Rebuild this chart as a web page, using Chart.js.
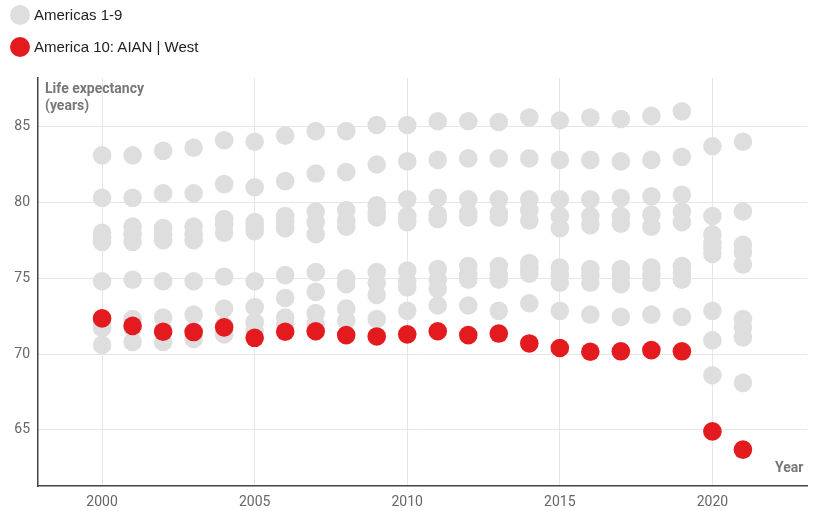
<!DOCTYPE html>
<html>
<head>
<meta charset="utf-8">
<script src="https://cdn.jsdelivr.net/npm/chart.js@4.4.1/dist/chart.umd.min.js"></script>
<style>
  html, body { margin: 0; padding: 0; background: #fff; }
  #wrap { position: relative; width: 819px; height: 511px; }
  #chart { position: absolute; left: 0; top: 0; }
  .leg { position: absolute; left: 10px; font: 15px "Liberation Sans", Arial, sans-serif; color: #222; white-space: nowrap; }
  .leg span { display: inline-block; width: 20px; height: 20px; border-radius: 50%; vertical-align: middle; margin-right: 4px; position: relative; top: -1px; }
  .ttl { position: absolute; font: bold 14px Roboto, sans-serif; color: #777; line-height: 17px; }
</style>
</head>
<body>
<div id="wrap">
  <canvas id="chart" width="819" height="511"></canvas>
  <div class="leg" style="top:6px"><span style="background:#dedede"></span>Americas 1-9</div>
  <div class="leg" style="top:38px"><span style="background:#e31b1f"></span>America 10: AIAN | West</div>
  <div class="ttl" style="left:45px;top:80px">Life expectancy<br>(years)</div>
  <div class="ttl" style="left:775px;top:459px">Year</div>
</div>
<script>
// years on the x axis
const years = [2000,2001,2002,2003,2004,2005,2006,2007,2008,2009,2010,2011,2012,2013,2014,2015,2016,2017,2018,2019,2020,2021];
const xTicks = [2000, 2005, 2010, 2015, 2020];
const yTicks = [65, 70, 75, 80, 85];

// Americas 1-9 (gray), one row per series
const america1 = [83.1,83.1,83.4,83.6,84.1,84.0,84.4,84.7,84.7,85.1,85.1,85.35,85.35,85.3,85.6,85.4,85.6,85.5,85.7,86.0,83.7,84.0];
const america2 = [80.3,80.3,80.6,80.6,81.2,81.0,81.4,81.9,82.0,82.5,82.7,82.8,82.9,82.9,82.9,82.8,82.8,82.7,82.8,83.0,79.1,79.4];
const america3 = [78.0,78.4,78.3,78.4,78.9,78.7,79.1,79.4,79.5,79.8,80.2,80.3,80.2,80.2,80.2,80.2,80.2,80.3,80.4,80.5,77.9,77.2];
const america4 = [77.7,77.9,77.9,77.9,78.5,78.4,78.7,78.7,78.8,79.3,79.1,79.2,79.3,79.3,79.5,79.1,79.1,79.1,79.2,79.4,77.3,76.7];
const america5 = [77.4,77.4,77.5,77.5,78.0,78.1,78.3,77.9,78.4,79.0,78.7,78.9,79.0,79.0,78.8,78.3,78.5,78.6,78.4,78.7,77.0,75.9];
const america6 = [74.8,74.9,74.8,74.8,75.1,74.8,75.2,75.4,75.0,75.4,75.5,75.6,75.8,75.8,76.0,75.7,75.6,75.6,75.7,75.8,76.6,72.3];
const america7 = [72.0,72.3,72.4,72.6,73.0,73.1,73.7,74.1,74.6,74.7,74.8,74.9,75.2,75.2,75.6,75.2,75.2,75.1,75.2,75.3,72.85,71.75];
const america8 = [71.7,71.7,71.6,71.5,71.9,72.1,72.4,72.7,73.0,73.9,74.4,74.3,74.9,74.9,75.3,74.7,74.7,74.6,74.7,74.9,70.9,71.1];
const america9 = [70.6,70.8,70.8,71.0,71.3,71.5,71.9,72.0,72.2,72.3,72.85,73.2,73.2,72.85,73.35,72.85,72.6,72.45,72.6,72.45,68.6,68.1];
// America 10: AIAN | West (red)
const america10 = [72.35,71.86,71.47,71.45,71.76,71.07,71.47,71.5,71.25,71.16,71.3,71.5,71.25,71.35,70.7,70.4,70.15,70.18,70.26,70.18,64.9,63.7];

const grays = [america1, america2, america3, america4, america5, america6, america7, america8, america9];

function toPoints(vals){
  return vals.map((v, i) => ({x: years[i], y: v}));
}

const datasets = [{
  label: 'America 10: AIAN | West',
  data: toPoints(america10),
  backgroundColor: '#e31b1f',
  pointRadius: 9.3,
  pointBorderWidth: 0,
  order: 0
}];
grays.forEach((g, i) => {
  datasets.push({
    label: 'America ' + (i + 1),
    data: toPoints(g),
    backgroundColor: '#dedede',
    pointRadius: 9.3,
    pointBorderWidth: 0,
    order: 1
  });
});

const tickFont = {family: 'Roboto', size: 14};

new Chart(document.getElementById('chart'), {
  type: 'scatter',
  data: { datasets },
  options: {
    responsive: false,
    animation: false,
    layout: { padding: { top: 78, right: 12, left: 0, bottom: 0 } },
    plugins: { legend: { display: false }, tooltip: { enabled: false } },
    scales: {
      x: {
        type: 'linear',
        min: 1997.9,
        max: 2023.1,
        afterBuildTicks: s => { s.ticks = xTicks.map(v => ({value: v})); },
        afterFit: s => { s.height = 25; },
        ticks: { color: '#666', font: tickFont, padding: 8, callback: v => String(v) },
        grid: { color: '#e6e6e6', lineWidth: 1, drawTicks: false },
        border: { display: true, color: '#444', width: 1.5 }
      },
      y: {
        type: 'linear',
        min: 61.3,
        max: 88.2,
        afterBuildTicks: s => { s.ticks = yTicks.map(v => ({value: v})); },
        afterFit: s => { s.width = 38; },
        ticks: { color: '#666', font: tickFont, padding: 8, callback: v => String(v) },
        grid: { color: '#e6e6e6', lineWidth: 1, drawTicks: false },
        border: { display: true, color: '#444', width: 1.5 }
      }
    }
  }
});
</script>
</body>
</html>
